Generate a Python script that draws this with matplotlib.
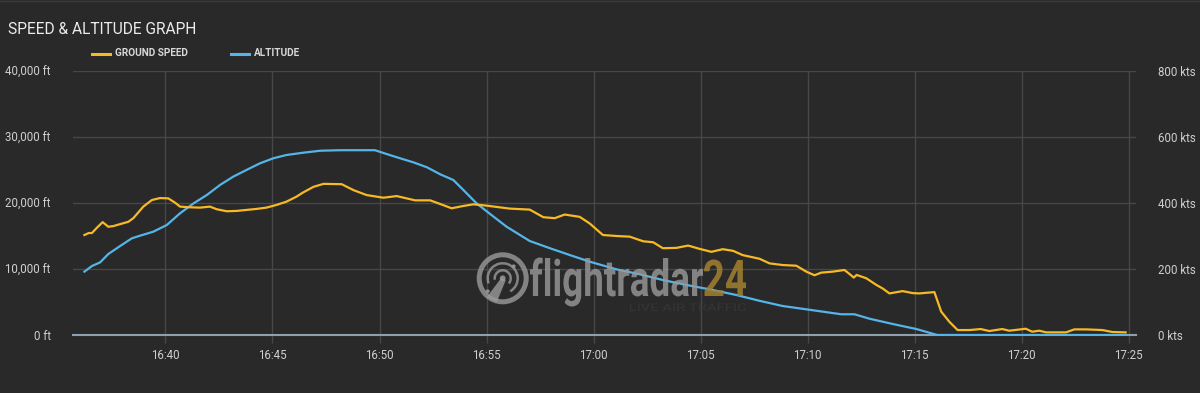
import numpy as np
import pandas as pd
import matplotlib
matplotlib.use("Agg")
import matplotlib.pyplot as plt
import matplotlib.dates as mdates
from matplotlib.lines import Line2D
from matplotlib.patches import PathPatch, Circle, Arc, Polygon
from matplotlib.textpath import TextPath
from matplotlib.font_manager import FontProperties
from matplotlib.transforms import Affine2D, IdentityTransform

# ground speed (kts)
speed_times = [
    "16:36:13", "16:36:25", "16:36:34", "16:36:48", "16:37:04", "16:37:20", "16:37:34",
    "16:37:53", "16:38:16", "16:38:30", "16:38:58", "16:39:22", "16:39:45", "16:40:08",
    "16:40:27", "16:40:41", "16:41:09", "16:41:37", "16:42:05", "16:42:24", "16:42:52",
    "16:43:20", "16:43:47", "16:44:15", "16:44:43", "16:45:11", "16:45:39", "16:46:07",
    "16:46:26", "16:46:55", "16:47:23", "16:48:14", "16:48:47", "16:49:24", "16:50:11",
    "16:50:48", "16:51:40", "16:52:22", "16:52:50", "16:53:22", "16:53:55", "16:54:23",
    "16:55:00", "16:56:05", "16:57:01", "16:57:39", "16:58:11", "16:58:39", "16:59:21",
    "16:59:49", "17:00:26", "17:01:04", "17:01:41", "17:02:19", "17:02:47", "17:03:14",
    "17:03:52", "17:04:25", "17:04:57", "17:05:30", "17:06:02", "17:06:31", "17:06:58",
    "17:07:45", "17:08:13", "17:08:50", "17:09:28", "17:09:56", "17:10:19", "17:10:38",
    "17:11:10", "17:11:43", "17:11:57", "17:12:09", "17:12:17", "17:12:44", "17:13:12",
    "17:13:30", "17:13:49", "17:14:26", "17:14:54", "17:15:13", "17:15:55", "17:16:14",
    "17:16:37", "17:17:00", "17:17:33", "17:18:05", "17:18:29", "17:19:05", "17:19:25",
    "17:20:11", "17:20:29", "17:20:49", "17:21:08", "17:22:04", "17:22:27", "17:23:00",
    "17:23:46", "17:24:14", "17:24:51",
]
speed_kts = [
    303, 309, 309, 325, 342, 328, 330,
    336, 343, 354, 389, 409, 415, 414,
    401, 389, 387, 386, 389, 381, 375,
    376, 379, 382, 386, 394, 404, 419,
    432, 449, 458, 457, 439, 424, 416,
    421, 408, 408, 397, 384, 391, 396,
    392, 383, 380, 357, 354, 365, 358,
    338, 303, 300, 298, 284, 281, 263,
    264, 271, 261, 252, 260, 255, 242,
    231, 217, 212, 210, 192, 181, 189,
    192, 197, 185, 174, 182, 172, 152,
    141, 126, 133, 127, 126, 130, 71,
    40, 15, 15, 18, 12, 18, 13,
    19, 10, 13, 8, 8, 17, 17,
    15, 9, 8,
]

# altitude (ft)
alt_times = [
    "16:36:13", "16:36:34", "16:36:57", "16:37:20", "16:37:53", "16:38:26", "16:38:49",
    "16:39:26", "16:40:04", "16:40:41", "16:41:19", "16:41:56", "16:42:33", "16:43:10",
    "16:43:47", "16:44:25", "16:45:02", "16:45:39", "16:46:26", "16:47:14", "16:48:10",
    "16:49:47", "16:50:20", "16:50:58", "16:51:35", "16:52:13", "16:52:50", "16:53:27",
    "16:53:55", "16:54:32", "16:55:10", "16:55:56", "16:57:01", "16:57:58", "16:58:53",
    "16:59:49", "17:01:04", "17:02:09", "17:03:14", "17:04:20", "17:05:25", "17:06:40",
    "17:07:45", "17:08:50", "17:09:56", "17:11:34", "17:12:11", "17:12:53", "17:13:58",
    "17:15:04", "17:16:03", "17:24:51",
]
alt_ft = [
    9600, 10450, 11000, 12270, 13480, 14650, 15050,
    15650, 16670, 18440, 19950, 21210, 22730, 23990,
    25000, 26010, 26770, 27270, 27620, 27920, 28000,
    28000, 27420, 26770, 26160, 25410, 24350, 23480,
    21970, 19950, 18330, 16410, 14240, 13140, 12120,
    11110, 9950, 9200, 8330, 7580, 6920, 6060,
    5180, 4390, 3890, 3140, 3140, 2470, 1670,
    910, 0, 0,
]

alt_ticks = [0, 10000, 20000, 30000, 40000]
alt_labels = ["0 ft", "10,000 ft", "20,000 ft", "30,000 ft", "40,000 ft"]
spd_ticks = [0, 200, 400, 600, 800]
spd_labels = ["0 kts", "200 kts", "400 kts", "600 kts", "800 kts"]

BG = "#292929"
GRID = "#474747"
YELLOW = "#f7b924"
BLUE = "#55b4e8"
TXT = "#cfcfcf"
FONT = "Roboto"
TICK_FS = 8.3

day = "2020-01-01 "
st = pd.to_datetime([day + t for t in speed_times])
at = pd.to_datetime([day + t for t in alt_times])

W, H = 1200, 393
fig = plt.figure(figsize=(W / 100, H / 100), dpi=100, facecolor=BG)
ax = fig.add_axes([73 / W, 1 - 335 / H, (1136 - 73) / W, (335 - 71) / H])
ax.set_facecolor(BG)
ax2 = ax.twinx()

ax.plot(at, alt_ft, color=BLUE, lw=1.6, zorder=3, solid_joinstyle="round")
ax2.plot(st, speed_kts, color=YELLOW, lw=1.6, zorder=3, solid_joinstyle="round")

ax.set_ylim(0, 40000)
ax2.set_ylim(0, 800)
ax.set_xlim(pd.Timestamp(day + "16:35:41"), pd.Timestamp(day + "17:25:20"))

ax.set_yticks(alt_ticks)
ax.set_yticklabels(alt_labels)
ax2.set_yticks(spd_ticks)
ax2.set_yticklabels(spd_labels)

ax.xaxis.set_major_locator(mdates.MinuteLocator(byminute=range(0, 60, 5)))
ax.xaxis.set_major_formatter(mdates.DateFormatter("%H:%M"))

for a in (ax, ax2):
    for s in a.spines.values():
        s.set_visible(False)
    a.tick_params(axis="y", length=0, colors=TXT, labelsize=TICK_FS, pad=16)
    for lab in a.get_yticklabels():
        lab.set_fontfamily(FONT)
ax.tick_params(axis="x", length=6, color=GRID, width=1, colors=TXT, labelsize=TICK_FS, pad=4)
for lab in ax.get_xticklabels():
    lab.set_fontfamily(FONT)

ax.grid(True, color=GRID, lw=1)
ax.set_axisbelow(True)
ax.axhline(0, color="#8f9fae", lw=1.5, zorder=2, clip_on=False)

# title and legend
fig.text(8 / W, 1 - 29 / H, "SPEED & ALTITUDE GRAPH", color="#ececec", fontsize=11.2,
         family=FONT, va="center", ha="left")
for x0, col, label in [(92, YELLOW, "GROUND SPEED"), (231, BLUE, "ALTITUDE")]:
    fig.add_artist(Line2D([x0 / W, (x0 + 18) / W], [1 - 53.5 / H] * 2, color=col, lw=2.2,
                          transform=fig.transFigure))
    fig.text((x0 + 23) / W, 1 - 53.5 / H, label, color="#d8d8d8", fontsize=7.2, weight="bold",
             family=FONT, va="center", ha="left")

# top border
fig.add_artist(Line2D([0, 1], [1 - 0.5 / H] * 2, color="#3c3c3c", lw=1, transform=fig.transFigure))


# flightradar24 watermark (pixel coordinates, y from bottom)
def place_text(s, x0, x1, base, height, color, alpha, weight="bold"):
    prop = FontProperties(family="Roboto", weight=weight)
    tp = TextPath((0, 0), s, size=100, prop=prop)
    bb = tp.get_extents()
    ref = TextPath((0, 0), "l", size=100, prop=prop).get_extents()
    sx = (x1 - x0) / bb.width
    sy = height / ref.height
    tr = Affine2D().translate(-bb.x0, 0).scale(sx, sy).translate(x0, H - base)
    patch = PathPatch(tr.transform_path(tp), facecolor=color, edgecolor="none", alpha=alpha,
                      transform=IdentityTransform(), zorder=10)
    fig.add_artist(patch)


place_text("flightradar", 530, 703, 296, 38, "#9a9a9a", 0.8)
place_text("24", 704, 746, 296, 38, "#a3822f", 0.85)
place_text("LIVE AIR TRAFFIC", 630, 746, 311, 8, "#363636", 0.9, weight="regular")

cx, cy = 502.7, H - 278.3
logo = "#9a9a9a"
fig.add_artist(Circle((cx, cy), 23.5, fill=False, ec=logo, lw=3.6, alpha=0.8,
                      transform=IdentityTransform(), zorder=10))
fig.add_artist(Arc((cx, cy), 30, 30, theta1=-60, theta2=200, ec=logo, lw=1.8, alpha=0.8,
                   transform=IdentityTransform(), zorder=10))
fig.add_artist(Arc((cx, cy), 16, 16, theta1=-40, theta2=190, ec=logo, lw=1.8, alpha=0.8,
                   transform=IdentityTransform(), zorder=10))
fig.add_artist(Circle((cx, cy), 2.2, color=logo, alpha=0.8, transform=IdentityTransform(), zorder=10))
fig.add_artist(Circle((cx + 11, cy + 12), 1.3, color=logo, alpha=0.8, transform=IdentityTransform(), zorder=10))
fig.add_artist(Circle((cx - 15, cy - 13), 1.3, color=logo, alpha=0.8, transform=IdentityTransform(), zorder=10))
fig.add_artist(Polygon([(cx - 1, cy + 1), (cx + 3, cy - 2), (cx - 6, cy - 24), (cx - 16, cy - 19)],
                       closed=True, fc=logo, ec="none", alpha=0.8, transform=IdentityTransform(), zorder=10))

fig.savefig("out.png", dpi=100, facecolor=BG)
